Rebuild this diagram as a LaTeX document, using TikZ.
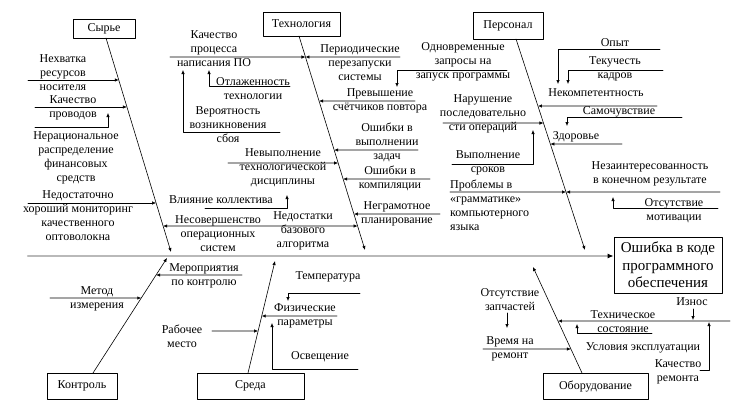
\documentclass[tikz,border=0pt]{standalone}
\usepackage{fontspec}
\setmainfont{Liberation Serif}
\usetikzlibrary{arrows.meta}

\begin{document}
\begin{tikzpicture}[x=1pt, y=-1pt, >={Latex[length=4pt,width=3.4pt]}, line cap=round, line join=round,
	font=\fontsize{12}{14}\selectfont,
	cat/.style={draw, line width=0.7pt, inner sep=1pt},
	lbl/.style={align=center, inner sep=0pt},
	bone/.style={line width=0.6pt, ->},
	cause/.style={line width=0.6pt, ->},
	spine/.style={line width=2.4pt, gray!55, -{Latex[length=6pt,width=5pt,color=black]}}]

\useasboundingbox (0,0) rectangle (731,408);

% ==== Category boxes and effect ====
\node[cat, minimum width=62pt, minimum height=19pt] (syr) at (104,28.5) {Сырье};
\node[cat, minimum width=77pt, minimum height=24pt] (tehn) at (301.5,24) {Технология};
\node[cat, minimum width=70pt, minimum height=27pt] (pers) at (508,25.5) {Персонал};
\node[cat, minimum width=70pt, minimum height=26pt] (kontr) at (82,386) {Контроль};
\node[cat, minimum width=107pt, minimum height=26pt] (sreda) at (250.5,386) {Среда};
\node[cat, minimum width=105pt, minimum height=26pt] (obor) at (595.5,386) {Оборудование};
\node[cat, minimum width=108pt, minimum height=56pt, align=center,
	font=\fontsize{15}{17.5}\selectfont] (effect) at (668,265) {Ошибка в коде\\программного\\обеспечения};

% ==== Spine and bones ====
\coordinate (spL) at (28,256);
\draw[spine] (spL) -- (effect.west |- spL);

\coordinate (syrA) at (106,38);  \coordinate (syrB) at (171,252);
\coordinate (tehA) at (299,36);  \coordinate (tehB) at (365,250);
\coordinate (perA) at (516,39);  \coordinate (perB) at (585,250);
\coordinate (konA) at (93,373);  \coordinate (konB) at (167,258);
\coordinate (srA) at (248,373);  \coordinate (srB) at (275,261);
\coordinate (obA) at (582,373);  \coordinate (obB) at (533,267);
\draw[bone] (syrA) -- (syrB);
\draw[bone] (tehA) -- (tehB);
\draw[bone] (perA) -- (perB);
\draw[bone] (konA) -- (konB);
\draw[bone] (srA) -- (srB);
\draw[bone] (obA) -- (obB);

% ==== Raw materials ====
\node[lbl] (nehv) at (63,73) {Нехватка\\ресурсов\\носителя};
\draw[cause] (28,80) -- (intersection of syrA--syrB and 0,80--1,80);
\node[lbl] (kprov) at (73,107.5) {Качество\\проводов};
\draw[cause] (35,107) -- (intersection of syrA--syrB and 0,107--1,107);
\node[lbl] (nerac) at (76,157.5) {Нерациональное\\распределение\\финансовых\\средств};
\draw[cause] (35,127) -- (108,127) -- (108,113);
\node[lbl] (nedost) at (78,216) {Недостаточно\\хороший мониторинг\\качественного\\оптоволокна};
\draw[cause] (28,203) -- (intersection of syrA--syrB and 0,203--1,203);
\node[lbl] (nesov) at (218,234) {Несовершенство\\операционных\\систем};
\node[lbl] (nedalg) at (303,231) {Недостатки\\базового\\алгоритма};
\draw[cause, <->] (intersection of syrA--syrB and 0,226--1,226)
	-- (intersection of tehA--tehB and 0,226--1,226);

% ==== Technology ====
\node[lbl] (kproc) at (214,49) {Качество\\процесса\\написания ПО};
\draw[cause] (170,57) -- (intersection of tehA--tehB and 0,57--1,57);
\node[lbl] (period) at (360,62.5) {Периодические\\перезапуски\\системы};
\draw[cause] (400,57) -- (intersection of tehA--tehB and 0,57--1,57);
\node[lbl] (otlaz) at (253,88.5) {Отлаженность\\технологии};
\draw[cause] (290,86) -- (209,86) -- (209,70);
\node[lbl] (veroj) at (228,124.5) {Вероятность\\возникновения\\сбоя};
\draw[cause] (280,132) -- (183,132) -- (183,70);
\node[lbl] (prevysh) at (380,100.5) {Превышение\\счётчиков повтора};
\draw[cause] (415,101) -- (intersection of tehA--tehB and 0,101--1,101);
\node[lbl] (odnovr) at (463,62) {Одновременные\\запросы на\\запуск программы};
\draw[cause] (507,70) -- (397,70) -- (397,87);
\node[lbl] (oshvyp) at (387,142.5) {Ошибки в\\выполнении\\задач};
\draw[cause] (418,150) -- (intersection of tehA--tehB and 0,150--1,150);
\node[lbl] (nevyp) at (283,167.5) {Невыполнение\\технологической\\дисциплины};
\draw[cause] (228,163) -- (intersection of tehA--tehB and 0,163--1,163);
\node[lbl] (oshkomp) at (390,178) {Ошибки в\\компиляции};
\draw[cause] (430,179) -- (intersection of tehA--tehB and 0,179--1,179);
\node[lbl] (vliyan) at (221,200) {Влияние коллектива};
\draw[cause] (205,208) -- (287,208) -- (287,195);
\node[lbl] (negram) at (397,213.5) {Неграмотное\\планирование};
\draw[cause] (440,214) -- (intersection of tehA--tehB and 0,214--1,214);

% ==== Staff ====
\node[lbl] (narush) at (483,114) {Нарушение\\последовательно\\сти операций};
\draw[cause] (443,123) -- (intersection of perA--perB and 0,123--1,123);
\node[lbl] (vypsr) at (488,162.5) {Выполнение\\сроков};
\draw[cause] (452,164) -- (533,164) -- (533,130);
\node[lbl, align=left, anchor=west] (probl) at (450,205.5) {Проблемы в\\«грамматике»\\компьютерного\\языка};
\draw[cause] (450,192) -- (intersection of perA--perB and 0,192--1,192);
\node[lbl] (nezain) at (650,174) {Незаинтересованность\\в конечном результате};
\draw[cause] (720,192) -- (intersection of perA--perB and 0,192--1,192);
\node[lbl] (otsmot) at (674,210.5) {Отсутствие\\мотивации};
\draw[cause] (718,208) -- (613,208) -- (613,197);
\node[lbl] (opyt) at (615,43) {Опыт};
\draw[cause] (660,49) -- (558,49) -- (558,84);
\node[lbl] (tekuch) at (615,69) {Текучесть\\кадров};
\draw[cause] (663,70) -- (568,70) -- (568,84);
\node[lbl] (nekomp) at (596,93) {Некомпетентность};
\draw[cause] (657,106) -- (intersection of perA--perB and 0,106--1,106);
\node[lbl] (samoch) at (619,112) {Самочувствие};
\draw[cause] (682,117) -- (567,117) -- (567,126);
\node[lbl] (zdor) at (576,137) {Здоровье};
\draw[cause] (622,144) -- (intersection of perA--perB and 0,144--1,144);

% ==== Control ====
\node[lbl] (merop) at (204,275.5) {Мероприятия\\по контролю};
\draw[cause] (242,275) -- (intersection of konA--konB and 0,275--1,275);
\node[lbl] (metod) at (97,298.5) {Метод\\измерения};
\draw[cause] (50,298) -- (intersection of konA--konB and 0,298--1,298);

% ==== Environment ====
\node[lbl] (rabm) at (182,336.5) {Рабочее\\место};
\draw[cause] (212,331) -- (intersection of srA--srB and 0,331--1,331);
\node[lbl] (temp) at (328,277) {Температура};
\draw[cause] (360,293) -- (288,293) -- (288,301);
\node[lbl] (fiz) at (305,315.5) {Физические\\параметры};
\draw[cause] (337,316) -- (intersection of srA--srB and 0,316--1,316);
\node[lbl] (osv) at (320,357) {Освещение};
\draw[cause] (358,369) -- (272,369) -- (272,323);

% ==== Equipment ====
\node[lbl] (otszap) at (510,300) {Отсутствие\\запчастей};
\draw[cause] (507,313) -- (507,328);
\node[lbl] (vrem) at (510,349) {Время на\\ремонт};
\draw[cause] (483,349) -- (intersection of obA--obB and 0,349--1,349);
\node[lbl] (tehsost) at (623,322) {Техническое\\состояние};
\draw[cause] (730,321) -- (intersection of obA--obB and 0,321--1,321);
\node[lbl] (usl) at (643,348) {Условия эксплуатации};
\draw[cause] (652,333) -- (577,333) -- (577,324);
\node[lbl] (iznos) at (692,302) {Износ};
\draw[cause] (693,309) -- (693,320);
\node[lbl] (kachrem) at (678,371.5) {Качество\\ремонта};
\draw[cause] (700,370) -- (709,370) -- (709,322);

\end{tikzpicture}
\end{document}
